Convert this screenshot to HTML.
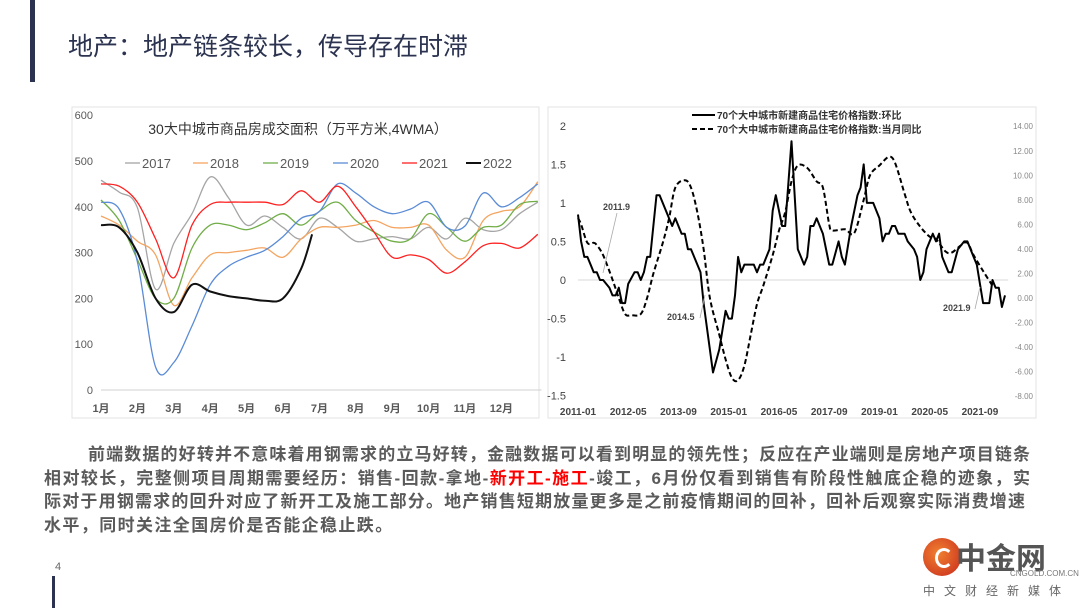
<!DOCTYPE html>
<html><head><meta charset="utf-8">
<style>
body{margin:0;width:1080px;height:608px;background:#fff;overflow:hidden;position:relative;font-family:"Liberation Sans","Noto Sans CJK SC",sans-serif;}
.ln{position:absolute;font-size:17px;font-weight:bold;color:#5a5a5a;white-space:nowrap;line-height:22px;}
.j{text-align:justify;text-align-last:justify;white-space:normal;}
</style></head><body>
<div style="position:absolute;left:30px;top:0;width:5px;height:82px;background:#2b3350"></div>
<div style="position:absolute;left:68px;top:27px;font-size:25px;color:#2b3350;font-family:'Liberation Sans','Noto Sans CJK SC',sans-serif">地产：地产链条较长，传导存在时滞</div>
<div style="position:absolute;left:52px;top:576px;width:3px;height:32px;background:#2b3350"></div>
<div style="position:absolute;left:55px;top:561px;font-size:11px;color:#666">4</div>

<svg width="1080" height="608" style="position:absolute;left:0;top:0">
<rect x="72" y="107" width="467" height="311" fill="none" stroke="#e3e3e3"/>
<rect x="548" y="107" width="488" height="311" fill="none" stroke="#e3e3e3"/>
<g id="left"></g><g id="right"></g>
</svg>

<div class="ln j" style="left:88px;top:444px;width:942px">前端数据的好转并不意味着用钢需求的立马好转，金融数据可以看到明显的领先性；反应在产业端则是房地产项目链条</div>
<div class="ln j" style="left:44px;top:468px;width:986px">相对较长，完整侧项目周期需要经历：销售-回款-拿地-<span style="color:#ff0000">新开工-施工</span>-竣工，6月份仅看到销售有阶段性触底企稳的迹象，实</div>
<div class="ln j" style="left:44px;top:491px;width:981px">际对于用钢需求的回升对应了新开工及施工部分。地产销售短期放量更多是之前疫情期间的回补，回补后观察实际消费增速</div>
<div class="ln" style="left:44px;top:515px;letter-spacing:1.4px">水平，同时关注全国房价是否能企稳止跌。</div>

<div style="position:absolute;left:920px;top:536px;width:160px;height:72px">
<div style="position:absolute;left:3px;top:2px;width:38px;height:38px;border-radius:50%;background:radial-gradient(circle at 40% 40%,#f08030,#c8281c)"></div>
<div style="position:absolute;left:15px;top:12px;width:12px;height:14px;border-radius:50%;border:3px solid #fff;border-right-color:transparent"></div>
<div style="position:absolute;left:36px;top:-2px;font-size:30px;color:#555;font-weight:bold">中金网</div>
<div style="position:absolute;left:90px;top:33px;font-size:8px;color:#777">CNGOLD.COM.CN</div>
<div style="position:absolute;left:3px;top:46px;font-size:12px;color:#666;letter-spacing:9px">中文财经新媒体</div>
</div>

<script>
const NS="http://www.w3.org/2000/svg";
function mk(p,tag,attrs,txt){const e=document.createElementNS(NS,tag);for(const k in attrs)e.setAttribute(k,attrs[k]);if(txt!==undefined)e.textContent=txt;p.appendChild(e);return e;}
function smooth(pts){let d="M"+pts[0][0]+","+pts[0][1];for(let i=0;i<pts.length-1;i++){const p0=pts[i-1]||pts[i],p1=pts[i],p2=pts[i+1],p3=pts[i+2]||p2;const c1=[p1[0]+(p2[0]-p0[0])/6,p1[1]+(p2[1]-p0[1])/6],c2=[p2[0]-(p3[0]-p1[0])/6,p2[1]-(p3[1]-p1[1])/6];d+=" C"+c1.join(",")+" "+c2.join(",")+" "+p2.join(",");}return d;}

// ---- Left chart data ----
const months=["1月","2月","3月","4月","5月","6月","7月","8月","9月","10月","11月","12月"];
const yTicks=[0,100,200,300,400,500,600];
const seriesNames=["2017","2018","2019","2020","2021","2022"];
const seriesColors=["#a5a5a5","#f4a460","#70ad47","#5b8bd6","#ff2020","#111111"];
const tPos=[0,0.5,1,1.5,2,2.5,3,3.5,4,4.5,5,5.5,6,6.5,7,7.5,8,8.5,9,9.5,10,10.5,11,11.5,12];
const v2017=[458,432,398,220,320,385,465,420,360,380,355,330,375,355,325,330,335,330,355,330,375,350,350,385,410];
const v2018=[380,360,325,295,185,245,295,300,305,310,290,330,355,355,360,370,355,355,360,305,290,370,390,400,455];
const v2019=[415,370,285,200,200,310,360,360,350,365,385,360,390,410,370,345,325,330,385,355,325,355,360,405,412];
const v2020=[410,395,280,50,60,140,230,270,290,305,335,375,390,450,430,400,385,395,410,355,358,430,400,420,450];
const v2021=[450,445,410,330,245,360,405,410,410,410,405,435,410,445,400,345,290,295,285,255,280,315,320,310,340];
const tPos2022=[0,0.5,1,1.5,2,2.5,3,3.5,4,4.5,5,5.5,5.8];
const v2022=[360,355,300,200,170,230,215,205,200,195,200,265,340];
const allVals=[v2017,v2018,v2019,v2020,v2021,v2022];

(function(){
const g=document.getElementById("left");
const X=t=>101+t*36.4, Y=v=>390-v*0.458;
mk(g,"line",{x1:X(0),x2:X(12.1),y1:Y(0),y2:Y(0),stroke:"#d0d0d0",});
yTicks.forEach(v=>{const t=mk(g,"text",{x:93,y:Y(v)+4,"text-anchor":"end","font-size":11,fill:"#595959"},v);

});
months.forEach((m,i)=>{const t=mk(g,"text",{x:X(i),y:412,"text-anchor":"middle","font-size":11,"font-weight":"bold",fill:"#595959"},m);

});
const tt=mk(g,"text",{x:298,y:134,"text-anchor":"middle","font-size":14,fill:"#333"},"30大中城市商品房成交面积（万平方米,4WMA）");


const lx=[125,193,263,333,402,466];
seriesNames.forEach((n,i)=>{
 const lg=mk(g,"g",{});
 
 
 mk(lg,"line",{x1:lx[i],x2:lx[i]+15,y1:163,y2:163,stroke:seriesColors[i],"stroke-width":i==5?2:1.3});
 mk(lg,"text",{x:lx[i]+17,y:168,"font-size":13,fill:"#595959"},n);
});
allVals.forEach((vals,i)=>{
 const tp=i==5?tPos2022:tPos;
 const pts=vals.map((v,k)=>[+X(tp[k]).toFixed(1),+Y(v).toFixed(1)]);
 const p=mk(g,"path",{d:smooth(pts),fill:"none",stroke:seriesColors[i],"stroke-width":i==5?2:1.3});
 
 
});
})();

// ---- Right chart data ----
const xLabels=["2011-01","2012-05","2013-09","2015-01","2016-05","2017-09","2019-01","2020-05","2021-09"];
const leftTicks=[-1.5,-1,-0.5,0,0.5,1,1.5,2];
const rightTicks=[-8,-6,-4,-2,0,2,4,6,8,10,12,14];
const momMonths=[0,1,2,3,4,5,6,7,8,10,11,12,13,14,15,16,18,19,20,21,22,23,25,26,30,31,33,34,35,36,39,40,43,45,47,48,49,50,51,52,53,56,57,58,59,61,62,63,65,66,68,70,72,73,74,75,76,78,80,81,83,84,85,87,89,90,91,92,94,96,97,98,99,100,101,102,104,105,106,107,108,109,110,111,113,114,115,116,118,119,121,123,124,126,127,129,131,132,133,134,135,136];
const momVals=[0.85,0.5,0.3,0.3,0.2,0.1,0.1,0,0,-0.1,-0.2,-0.2,-0.1,-0.3,-0.3,-0.05,0.1,0.1,0,0.1,0.3,0.3,1.1,1.1,0.7,0.8,0.6,0.6,0.4,0.4,0.1,-0.3,-1.2,-0.9,-0.4,-0.5,-0.5,-0.2,0.3,0.1,0.2,0.2,0.1,0.2,0.2,0.4,0.9,1.1,0.7,0.7,1.8,0.4,0.2,0.3,0.7,0.7,0.8,0.6,0.2,0.2,0.5,0.3,0.2,0.7,1.1,1.2,1.5,1.0,1.0,0.8,0.5,0.6,0.6,0.7,0.7,0.6,0.6,0.5,0.45,0.4,0.3,0,0.1,0.4,0.6,0.5,0.6,0.3,0.1,0.1,0.4,0.5,0.5,0.3,0.2,-0.3,-0.3,0,-0.1,-0.1,-0.35,-0.2];
const yoyMonths=[0,1,3,5,6,8,11,13,15,17,20,22,24,27,29,31,34,36,38,40,42,45,47,49,51,53,55,57,59,62,64,66,68,70,73,76,78,80,81,85,88,91,93,96,99,101,104,106,109,112,114,117,119,122,124,126,129,132];
const yoyVals=[6.5,6.0,4.5,4.5,4.3,3.5,1.5,0,-1.3,-1.4,-1.3,0,2,4.5,6.5,9,9.6,9,7,4,0,-3,-5,-6.5,-6.7,-5.5,-3,-0.5,1,3.5,5.5,7,9.5,10.8,10.6,9.5,9,6,5.5,5.6,5.3,8,10,10.8,11.5,11,8.5,7,5.8,5,4.8,3.8,3.7,4.3,4.5,3.5,2.2,1.0];
const annotations=["2011.9","2014.5","2021.9"];

(function(){
const g=document.getElementById("right");
const X=m=>578+m*3.14, YL=v=>280-v*77.1, YR=v=>298-v*12.27;
mk(g,"line",{x1:X(0),x2:X(137),y1:YL(0),y2:YL(0),stroke:"#d9d9d9",});
leftTicks.forEach(v=>{const t=mk(g,"text",{x:566,y:YL(v)+4,"text-anchor":"end","font-size":11,fill:"#444"},v);

});
rightTicks.forEach(v=>{const t=mk(g,"text",{x:1033,y:YR(v)+3,"text-anchor":"end","font-size":8,fill:"#888"},v.toFixed(2));

});
xLabels.forEach((l,i)=>{const t=mk(g,"text",{x:X(i*16),y:415,"text-anchor":"middle","font-size":10,"font-weight":"bold",fill:"#444"},l);

});
const leg=[["solid","70个大中城市新建商品住宅价格指数:环比",115],["dash","70个大中城市新建商品住宅价格指数:当月同比",129]];
leg.forEach(L=>{const lg=mk(g,"g",{});
 
 
 mk(lg,"line",{x1:692,x2:715,y1:L[2],y2:L[2],stroke:"#000","stroke-width":2,"stroke-dasharray":L[0]=="dash"?"5,3":"none"});
 mk(lg,"text",{x:717,y:L[2]+4,"font-size":10,"font-weight":"bold",fill:"#333"},L[1]);});
const yo=mk(g,"path",{d:smooth(yoyMonths.map((m,i)=>[+X(m).toFixed(1),+YR(yoyVals[i]).toFixed(1)])),fill:"none",stroke:"#000","stroke-width":2,"stroke-dasharray":"5,3"});


const mo=mk(g,"polyline",{points:momMonths.map((m,i)=>X(m).toFixed(1)+","+YL(momVals[i]).toFixed(1)).join(" "),fill:"none",stroke:"#000","stroke-width":2,"stroke-linejoin":"round"});


const an=[[603,210,617,213,603,273],[667,320,700,318,705,295],[943,311,975,309,980,287]];
an.forEach((a,i)=>{const ag=mk(g,"g",{});
 
 
 mk(ag,"line",{x1:a[2],y1:a[3],x2:a[4],y2:a[5],stroke:"#aaa","stroke-width":0.8});
 mk(ag,"text",{x:a[0],y:a[1],"font-size":9,"font-weight":"bold",fill:"#444"},annotations[i]);});
})();
</script>
</body></html>
